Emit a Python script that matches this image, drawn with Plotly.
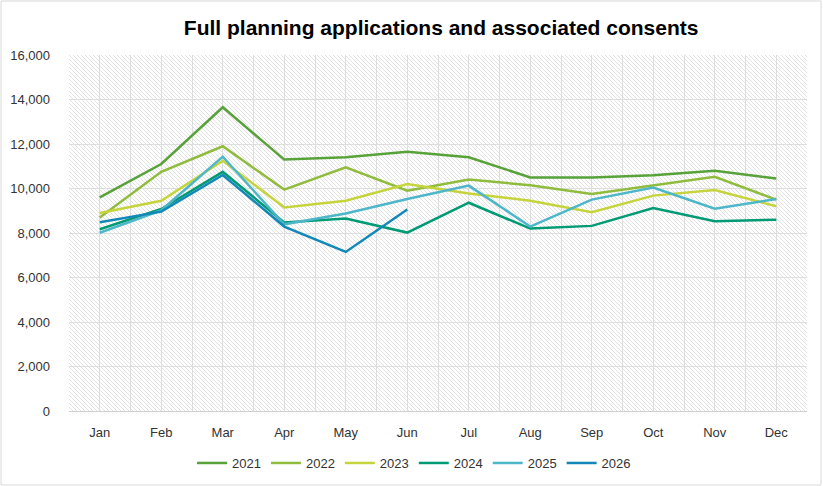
import base64
import plotly.graph_objects as go

# Monthly figures
months = ['Jan', 'Feb', 'Mar', 'Apr', 'May', 'Jun',
          'Jul', 'Aug', 'Sep', 'Oct', 'Nov', 'Dec']

y2021 = [9600, 11100, 13650, 11300, 11400, 11650, 11400, 10500, 10500, 10600, 10800, 10450]
y2022 = [8700, 10750, 11900, 9950, 10950, 9900, 10400, 10150, 9750, 10130, 10530, 9500]
y2023 = [8900, 9450, 11250, 9150, 9450, 10200, 9780, 9450, 8930, 9680, 9930, 9200]
y2024 = [8170, 9080, 10750, 8470, 8650, 8020, 9360, 8200, 8320, 9120, 8530, 8600]
y2025 = [8010, 9020, 11430, 8390, 8880, 9530, 10130, 8290, 9500, 10040, 9090, 9530]
y2026 = [8480, 8960, 10610, 8290, 7150, 9060]

series = [
    ('2021', y2021, '#58a23a'),
    ('2022', y2022, '#8fbc3c'),
    ('2023', y2023, '#c6d43c'),
    ('2024', y2024, '#009a74'),
    ('2025', y2025, '#4db7c9'),
    ('2026', y2026, '#1188b8'),
]

fig = go.Figure()
for name, vals, col in series:
    fig.add_trace(go.Scatter(
        x=list(range(len(vals))), y=vals, name=name, mode='lines',
        line=dict(color=col, width=2.5)
    ))

# hatched plot background (Excel-style pattern fill)
svg = ('<svg xmlns="http://www.w3.org/2000/svg" width="738" height="356">'
       '<defs><pattern id="h" width="4" height="4" patternUnits="userSpaceOnUse">'
       '<path d="M-1,-1 L5,5" stroke="#d6d6d6" stroke-width="0.7"/></pattern></defs>'
       '<rect width="738" height="356" fill="url(#h)"/></svg>')
src = 'data:image/svg+xml;base64,' + base64.b64encode(svg.encode()).decode()

fig.update_layout(
    width=823, height=486,
    margin=dict(l=69, r=16, t=55, b=75, autoexpand=False),
    paper_bgcolor='white', plot_bgcolor='white',
    font=dict(family='Arial, Liberation Sans', size=13, color='#333333'),
    title=dict(text='<b>Full planning applications and associated consents</b>',
               x=0.536, xanchor='center', y=0.944, yanchor='middle',
               font=dict(size=21, color='black')),
    showlegend=True,
    legend=dict(orientation='h', x=0.4675, xanchor='center', y=-0.104, yanchor='top',
                font=dict(size=13, color='#333333'), itemwidth=30, tracegroupgap=0),
    images=[dict(source=src, xref='paper', yref='paper', x=0, y=1, sizex=1, sizey=1,
                 xanchor='left', yanchor='top', sizing='stretch', layer='below')],
    shapes=[dict(type='rect', xref='paper', yref='paper',
                 x0=-0.0921, x1=1.019, y0=-0.2079, y1=1.1517,
                 line=dict(color='#d9d9d9', width=1), fillcolor='rgba(0,0,0,0)')],
)

fig.update_xaxes(
    range=[-0.5, 11.5], tickmode='array', tickvals=list(range(len(months))),
    ticktext=months, showgrid=True, gridcolor='#dedede', gridwidth=1,
    minor=dict(tick0=-0.5, dtick=1, showgrid=True, gridcolor='#dedede', gridwidth=1),
    showline=True, linecolor='#d0d0d0', ticks='', ticklabelstandoff=9,
    zeroline=False, automargin=False
)
fig.update_yaxes(
    range=[0, 16000], dtick=2000, tickformat=',', showgrid=True,
    gridcolor='#dedede', gridwidth=1, zeroline=False, ticks='',
    ticklabelstandoff=18, automargin=False
)

# drop the default page margin so the chart sits at the window's corner
fig.write_html('out.html', config={'displayModeBar': False},
               post_script="document.body.style.margin='0';")
